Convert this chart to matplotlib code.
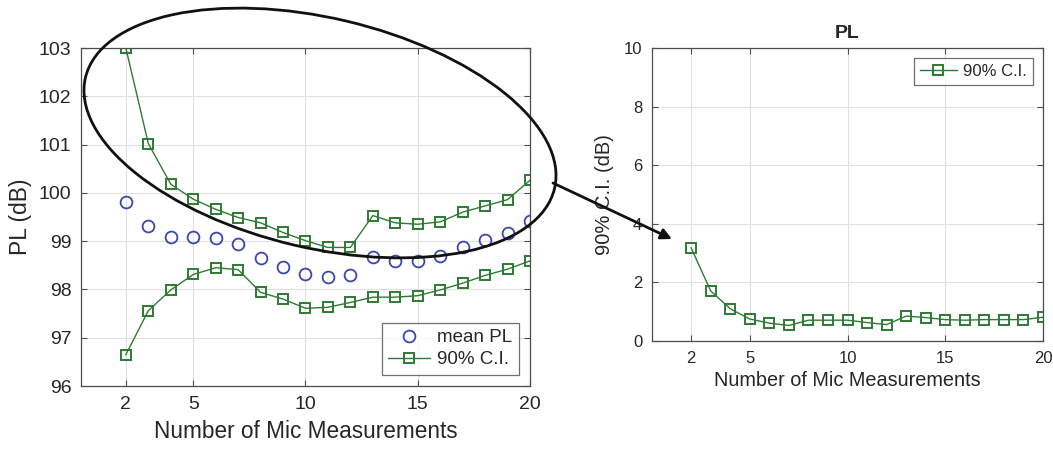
import numpy as np
import matplotlib.pyplot as plt
from matplotlib.patches import Ellipse

plt.rcParams['font.family'] = ['Liberation Sans', 'DejaVu Sans']

n_mics = [2, 3, 4, 5, 6, 7, 8, 9, 10, 11, 12, 13, 14, 15, 16, 17, 18, 19, 20]
mean_pl = [99.82, 99.31, 99.09, 99.09, 99.07, 98.94, 98.65, 98.47, 98.32, 98.25,
           98.29, 98.67, 98.59, 98.59, 98.69, 98.87, 99.02, 99.16, 99.42]
ci_upper = [103.0, 101.02, 100.18, 99.87, 99.66, 99.49, 99.38, 99.18, 99.01, 98.87,
            98.87, 99.53, 99.38, 99.35, 99.40, 99.60, 99.73, 99.86, 100.26]
ci_lower = [96.65, 97.56, 97.99, 98.31, 98.45, 98.41, 97.94, 97.80, 97.61, 97.63,
            97.73, 97.84, 97.84, 97.87, 97.99, 98.13, 98.29, 98.42, 98.59]
ci_width = [3.18, 1.71, 1.10, 0.75, 0.61, 0.53, 0.71, 0.71, 0.71, 0.63,
            0.56, 0.85, 0.80, 0.73, 0.71, 0.73, 0.73, 0.73, 0.81]
x_ticks = [2, 5, 10, 15, 20]

green = '#2f7a34'
blue = '#3b47ad'
txt = '#262626'
edge = '#4d4d4d'

fig = plt.figure(figsize=(10.53, 4.51), dpi=100)


def matlab_axes(ax, tick_size):
    ax.grid(True, color='#e0e0e0', linewidth=0.8)
    ax.set_axisbelow(True)
    ax.tick_params(direction='in', top=True, right=True, colors=edge,
                   labelcolor=txt, labelsize=tick_size, length=4, pad=7)
    for s in ax.spines.values():
        s.set_color(edge)
        s.set_linewidth(0.9)
    ax.set_xticks(x_ticks)


# left panel
ax1 = fig.add_axes([0.0769, 0.1441, 0.4264, 0.7494])
ax1.plot(n_mics, mean_pl, 'o', color=blue, mfc='none', ms=8.5, mew=1.3, label='mean PL')
ax1.plot(n_mics, ci_upper, '-s', color=green, mfc='none', ms=6.5, mew=1.4, lw=1.0,
         label='90% C.I.')
ax1.plot(n_mics, ci_lower, '-s', color=green, mfc='none', ms=6.5, mew=1.4, lw=1.0)
ax1.set_xlim(0, 20)
ax1.set_ylim(96, 103)
matlab_axes(ax1, 14)
ax1.set_xlabel('Number of Mic Measurements', fontsize=16.3, color=txt, labelpad=5)
ax1.set_ylabel('PL (dB)', fontsize=16.5, color=txt, labelpad=5)
leg1 = ax1.legend(loc='lower right', fontsize=13.5, frameon=True, fancybox=False,
                  edgecolor=edge, borderaxespad=0.6, handlelength=2.2,
                  handletextpad=0.4, borderpad=0.35, labelspacing=0.25)
leg1.get_frame().set_linewidth(0.9)
for t in leg1.get_texts():
    t.set_color(txt)

# right panel
ax2 = fig.add_axes([0.6192, 0.2439, 0.3713, 0.6497])
ax2.plot(n_mics, ci_width, '-s', color=green, mfc='none', ms=6.5, mew=1.4, lw=1.0,
         label='90% C.I.')
ax2.set_xlim(0, 20)
ax2.set_ylim(0, 10)
ax2.set_yticks([0, 2, 4, 6, 8, 10])
matlab_axes(ax2, 12)
ax2.set_xlabel('Number of Mic Measurements', fontsize=14.3, color=txt, labelpad=4)
ax2.set_ylabel('90% C.I. (dB)', fontsize=14.5, color=txt, labelpad=7)
ax2.set_title('PL', fontsize=14, fontweight='bold', color=txt, pad=7)
leg2 = ax2.legend(loc='upper right', fontsize=12, frameon=True, fancybox=False,
                  edgecolor=edge, borderaxespad=0.6, handlelength=2.2,
                  handletextpad=0.4, borderpad=0.35)
leg2.get_frame().set_linewidth(0.9)
for t in leg2.get_texts():
    t.set_color(txt)

# overlay in pixel units for the ellipse and arrow annotation
ov = fig.add_axes([0, 0, 1, 1])
ov.set_xlim(0, 1053)
ov.set_ylim(451, 0)
ov.axis('off')
ov.patch.set_alpha(0)
ov.add_patch(Ellipse((320, 133), 482, 230, angle=13.3, fill=False,
                     edgecolor='#111111', linewidth=2.0))
ov.annotate('', xy=(672, 239), xytext=(553, 183),
            arrowprops=dict(arrowstyle='-|>', color='#111111', lw=2.0,
                            mutation_scale=16, shrinkA=0, shrinkB=0))

fig.savefig('out.png', dpi=100)
